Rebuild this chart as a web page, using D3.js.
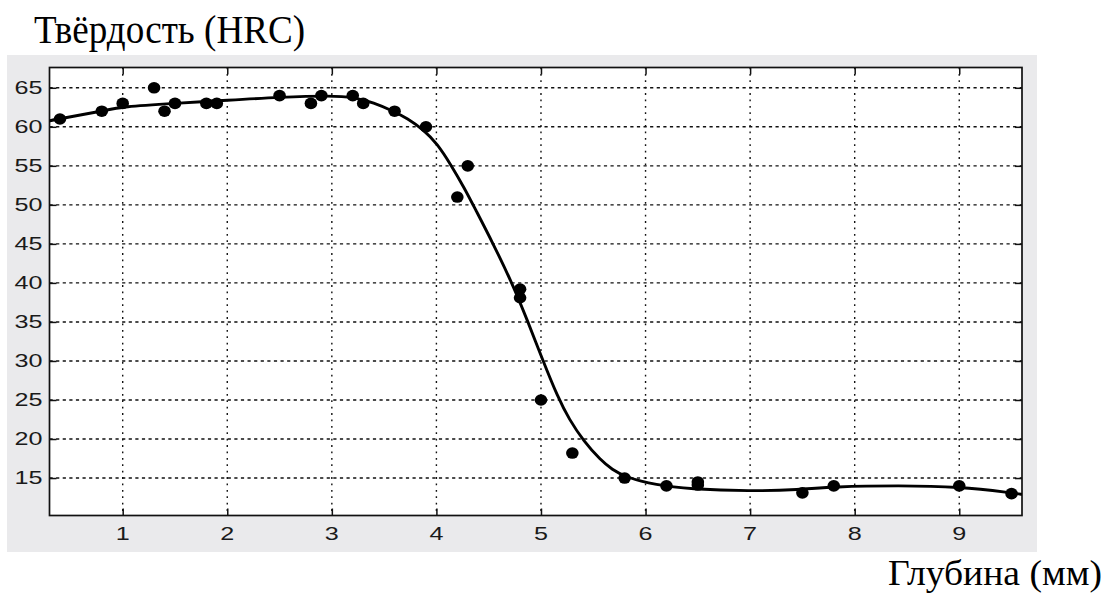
<!DOCTYPE html>
<html>
<head>
<meta charset="utf-8">
<script src="https://cdn.jsdelivr.net/npm/d3@7"></script>
<style>
  body { margin: 0; background: #fff; }
  svg { display: block; }
</style>
</head>
<body>
<svg id="chart" width="1115" height="597"></svg>
<script>
// measured points: depth (mm) vs hardness (HRC)
const depth    = [0.4, 0.8, 1.0, 1.3, 1.4, 1.5, 1.8, 1.9, 2.5, 2.8, 2.9, 3.2, 3.3, 3.6, 3.9, 4.2, 4.3, 4.8, 4.8, 5.0, 5.3, 5.8, 6.2, 6.5, 6.5, 7.5, 7.8, 9.0, 9.5];
const hardness = [61, 62, 63, 65, 62, 63, 63, 63, 64, 63, 64, 64, 63, 62, 60, 51, 55, 39.2, 38.1, 25, 18.2, 15, 14, 14.5, 14.1, 13.1, 14, 14, 13];

// fitted curve
const fitDepth    = [0.25, 0.3, 0.8, 1.0, 1.5, 2.0, 2.5, 3.0, 3.21, 3.40, 3.59, 3.72, 3.88, 4.01, 4.14, 4.27, 4.37, 4.54, 4.73, 4.87, 5.02, 5.16, 5.27, 5.41, 5.57, 5.68, 5.81, 6.1, 6.42, 7.0, 7.47, 7.79, 8.43, 9.0, 9.51, 9.6, 9.65];
const fitHardness = [60.6, 60.8, 62.0, 62.6, 63.0, 63.4, 63.8, 64.0, 63.8, 63.1, 62.0, 61.1, 59.6, 57.8, 55.1, 52.1, 49.5, 45.1, 39.8, 35.2, 30.0, 25.4, 22.5, 19.7, 17.3, 16.1, 15.1, 14.1, 13.6, 13.3, 13.5, 13.9, 14.05, 13.9, 13.1, 12.9, 12.8];

const xTicks = [1, 2, 3, 4, 5, 6, 7, 8, 9];
const yTicks = [15, 20, 25, 30, 35, 40, 45, 50, 55, 60, 65];

const yLabel = 'Твёрдость (HRC)';
const xLabel = 'Глубина (мм)';

const svg = d3.select('#chart');

// grey figure panel
svg.append('rect')
  .attr('x', 7).attr('y', 55)
  .attr('width', 1030).attr('height', 497)
  .attr('fill', '#eaeaec');

const plot = { left: 49.5, top: 67.5, right: 1022, bottom: 515.5 };

const x = d3.scaleLinear().domain([0.3, 9.6]).range([plot.left, plot.right]);
const y = d3.scaleLinear().domain([10.2, 67.6]).range([plot.bottom, plot.top]);

svg.append('rect')
  .attr('x', plot.left).attr('y', plot.top)
  .attr('width', plot.right - plot.left).attr('height', plot.bottom - plot.top)
  .attr('fill', '#fff');

// grid
const grid = svg.append('g');
grid.selectAll('.vgrid')
  .data(xTicks)
  .enter().append('line')
    .attr('x1', d => x(d)).attr('x2', d => x(d))
    .attr('y1', plot.top).attr('y2', plot.bottom)
    .attr('stroke', '#111').attr('stroke-width', 1.4)
    .attr('stroke-dasharray', '1.8,4.6');
grid.selectAll('.hgrid')
  .data(yTicks)
  .enter().append('line')
    .attr('x1', plot.left).attr('x2', plot.right)
    .attr('y1', d => y(d)).attr('y2', d => y(d))
    .attr('stroke', '#111').attr('stroke-width', 1.4)
    .attr('stroke-dasharray', '3.2,3.4');

// axes (ticks inside, on all four sides, like a boxed matlab plot)
const tickLen = 7;
const axisB = svg.append('g').attr('transform', `translate(0,${plot.bottom})`)
  .call(d3.axisBottom(x).tickValues(xTicks).tickSizeInner(-tickLen).tickSizeOuter(0).tickFormat(''));
const axisT = svg.append('g').attr('transform', `translate(0,${plot.top})`)
  .call(d3.axisTop(x).tickValues(xTicks).tickSizeInner(-tickLen).tickSizeOuter(0).tickFormat(''));
const axisL = svg.append('g').attr('transform', `translate(${plot.left},0)`)
  .call(d3.axisLeft(y).tickValues(yTicks).tickSizeInner(-tickLen).tickSizeOuter(0).tickFormat(''));
const axisR = svg.append('g').attr('transform', `translate(${plot.right},0)`)
  .call(d3.axisRight(y).tickValues(yTicks).tickSizeInner(-tickLen).tickSizeOuter(0).tickFormat(''));
[axisB, axisT, axisL, axisR].forEach(a => {
  a.select('.domain').remove();
  a.selectAll('line').attr('stroke', '#111').attr('stroke-width', 1.5);
});

svg.append('rect')
  .attr('x', plot.left).attr('y', plot.top)
  .attr('width', plot.right - plot.left).attr('height', plot.bottom - plot.top)
  .attr('fill', 'none').attr('stroke', '#111').attr('stroke-width', 1.7);

// tick labels, stretched wide as in the source picture
const labelFont = '"Liberation Sans", Arial, sans-serif';
svg.append('g').selectAll('text')
  .data(xTicks)
  .enter().append('text')
    .attr('transform', d => `translate(${x(d)},${plot.bottom + 24}) scale(1.4,1)`)
    .attr('text-anchor', 'middle')
    .attr('font-family', labelFont).attr('font-size', 18)
    .attr('fill', '#1a1a1a')
    .text(d => d);
svg.append('g').selectAll('text')
  .data(yTicks)
  .enter().append('text')
    .attr('transform', d => `translate(${plot.left - 7},${y(d) + 6.3}) scale(1.4,1)`)
    .attr('text-anchor', 'end')
    .attr('font-family', labelFont).attr('font-size', 18)
    .attr('fill', '#1a1a1a')
    .text(d => d);

// fitted curve (b-spline to smooth out reading noise)
const line = d3.line()
  .x((d, i) => x(d))
  .y((d, i) => y(fitHardness[i]))
  .curve(d3.curveBasis);

const clip = svg.append('clipPath').attr('id', 'plotclip');
clip.append('rect')
  .attr('x', plot.left).attr('y', plot.top)
  .attr('width', plot.right - plot.left).attr('height', plot.bottom - plot.top);

svg.append('path')
  .attr('clip-path', 'url(#plotclip)')
  .attr('d', line(fitDepth))
  .attr('fill', 'none')
  .attr('stroke', '#000')
  .attr('stroke-width', 2.9);

// data points
svg.append('g').attr('clip-path', 'url(#plotclip)')
  .selectAll('ellipse')
  .data(depth)
  .enter().append('ellipse')
    .attr('cx', d => x(d))
    .attr('cy', (d, i) => y(hardness[i]))
    .attr('rx', 6.3).attr('ry', 5.8)
    .attr('fill', '#000');

// axis titles (serif, as in the source document)
svg.append('text')
  .attr('x', 34).attr('y', 42.5)
  .attr('font-family', '"Liberation Serif", "Times New Roman", serif')
  .attr('font-size', 41)
  .attr('textLength', 271).attr('lengthAdjust', 'spacingAndGlyphs')
  .attr('fill', '#000')
  .text(yLabel);

svg.append('text')
  .attr('x', 888).attr('y', 585)
  .attr('font-family', '"Liberation Serif", "Times New Roman", serif')
  .attr('font-size', 36)
  .attr('textLength', 214).attr('lengthAdjust', 'spacingAndGlyphs')
  .attr('fill', '#000')
  .text(xLabel);
</script>
</body>
</html>
